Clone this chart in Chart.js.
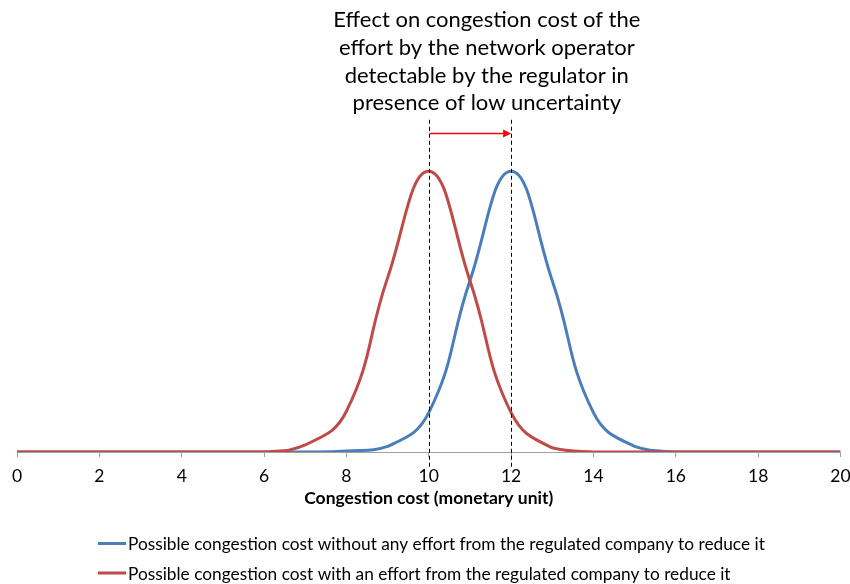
<!DOCTYPE html>
<html>
<head>
<meta charset="utf-8">
<script src="https://cdn.jsdelivr.net/npm/chart.js@4/dist/chart.umd.min.js"></script>
<style>
  html, body { margin: 0; padding: 0; background: #ffffff; }
  #wrap { width: 850px; height: 584px; }
</style>
</head>
<body>
<div id="wrap"><canvas id="c" width="850" height="584"></canvas></div>
<script>
// ---- data ----
const xValues = [0,1,2,3,4,5,6,7,8,9,10,11,12,13,14,15,16,17,18,19,20];
const noEffort   = [0,0,0,0,0,0,0,0,0.004,0.02,0.14,0.61,1,0.61,0.14,0.02,0,0,0,0,0];
const withEffort = [0,0,0,0,0,0,0,0.025,0.145,0.62,1,0.61,0.14,0.015,0,0,0,0,0,0,0];
const seriesLabels = [
  'Possible congestion cost without any effort from the regulated company to reduce it',
  'Possible congestion cost with an effort from the regulated company to reduce it'
];
const axisTitle = 'Congestion cost (monetary unit)';
const titleLines = [
  'Effect on congestion cost of the',
  'effort by the network operator',
  'detectable by the regulator in',
  'presence of low uncertainty'
];
const markerValues = [10, 12];   // dashed reference lines (x values)
const arrowFrom = 10, arrowTo = 12;

const FONT = 'Lato, "Open Sans", sans-serif';
const BLUE = '#4A7EBB';
const RED = '#BE4B48';

const overlay = {
  id: 'overlay',
  afterDatasetsDraw(chart) {
    const { ctx, scales: { x, y } } = chart;
    ctx.save();
    ctx.setLineDash([4, 3]);
    ctx.strokeStyle = '#000';
    ctx.lineWidth = 1;
    markerValues.forEach(v => {
      const px = Math.round(x.getPixelForValue(v)) + 0.5;
      ctx.beginPath();
      ctx.moveTo(px, y.getPixelForValue(1.183));
      ctx.lineTo(px, y.bottom + 17);
      ctx.stroke();
    });
    ctx.setLineDash([]);
    const ay = Math.round(y.getPixelForValue(1.137)) + 0.5;
    const ax0 = x.getPixelForValue(arrowFrom) + 1;
    const ax1 = x.getPixelForValue(arrowTo);
    ctx.strokeStyle = '#FF0000';
    ctx.fillStyle = '#FF0000';
    ctx.lineWidth = 1.3;
    ctx.beginPath();
    ctx.moveTo(ax0, ay);
    ctx.lineTo(ax1 - 7, ay);
    ctx.stroke();
    ctx.beginPath();
    ctx.moveTo(ax1, ay);
    ctx.lineTo(ax1 - 8, ay - 4);
    ctx.lineTo(ax1 - 8, ay + 4);
    ctx.closePath();
    ctx.fill();
    ctx.restore();
  },
  afterDraw(chart) {
    const { ctx, scales: { x, y } } = chart;
    ctx.save();
    ctx.fillStyle = '#000';
    // chart title
    ctx.font = '22px ' + FONT;
    ctx.textAlign = 'center';
    ctx.textBaseline = 'alphabetic';
    const cx = x.getPixelForValue(11.41);
    titleLines.forEach((t, i) => {
      ctx.fillText(t, cx, 27 + i * 27.8);
    });
    // x-axis title
    ctx.font = 'bold 17.5px ' + FONT;
    ctx.textBaseline = 'middle';
    ctx.fillText(axisTitle, (x.left + x.right) / 2, y.bottom + 46);
    // legend
    const rows = [543.5, 573];
    ctx.font = '17.3px ' + FONT;
    ctx.textAlign = 'left';
    chart.data.datasets.forEach((d, i) => {
      const yy = rows[i];
      ctx.strokeStyle = d.borderColor;
      ctx.lineWidth = 3;
      ctx.beginPath();
      ctx.moveTo(98, yy);
      ctx.lineTo(126, yy);
      ctx.stroke();
      ctx.fillStyle = '#000';
      ctx.fillText(d.label, 128, yy + 1);
    });
    ctx.restore();
  }
};

const ctx = document.getElementById('c').getContext('2d');
new Chart(ctx, {
  type: 'line',
  data: {
    datasets: [
      {
        label: seriesLabels[0],
        data: xValues.map((v, i) => ({ x: v, y: noEffort[i] })),
        borderColor: BLUE,
        borderWidth: 3,
        pointRadius: 0,
        tension: 0.45,
        fill: false,
        order: 1
      },
      {
        label: seriesLabels[1],
        data: xValues.map((v, i) => ({ x: v, y: withEffort[i] })),
        borderColor: RED,
        borderWidth: 3,
        pointRadius: 0,
        tension: 0.45,
        fill: false,
        order: 0
      }
    ]
  },
  options: {
    responsive: false,
    animation: false,
    devicePixelRatio: 1,
    layout: { padding: { top: 115, left: 17, right: 0, bottom: 89 } },
    plugins: {
      legend: { display: false },
      title: { display: false },
      tooltip: { enabled: false }
    },
    scales: {
      x: {
        type: 'linear',
        min: 0,
        max: 20,
        afterFit(scale) {
          scale.paddingLeft = 0;
          scale.paddingRight = 9.5;
        },
        ticks: {
          stepSize: 2,
          color: '#000',
          font: { family: FONT, size: 17.5 },
          padding: 8.5,
          maxRotation: 0
        },
        grid: {
          display: true,
          drawOnChartArea: false,
          drawTicks: true,
          tickLength: 5,
          color: '#A0A0A0'
        },
        border: { display: true, color: '#A0A0A0', width: 1 },
        title: { display: false }
      },
      y: {
        display: false,
        min: 0,
        max: 1.2
      }
    }
  },
  plugins: [overlay]
});
</script>
</body>
</html>
